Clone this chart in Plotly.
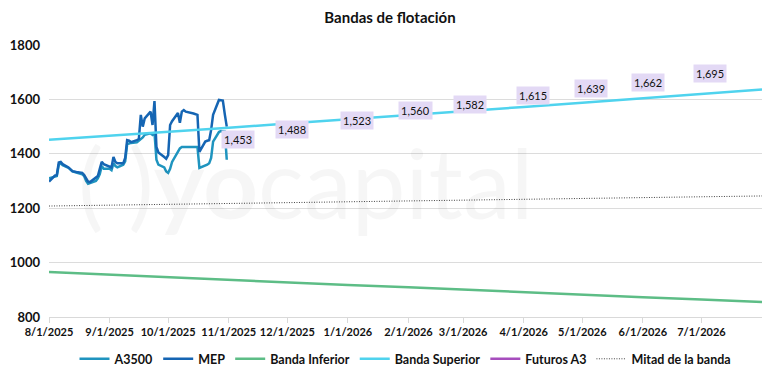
import plotly.graph_objects as go

# ---- data ----
fx_dates = ["2025-08-01","2025-08-04","2025-08-05","2025-08-06","2025-08-07","2025-08-08","2025-08-11","2025-08-13",
            "2025-08-15","2025-08-18","2025-08-19","2025-08-20","2025-08-21","2025-08-22","2025-08-25","2025-08-26",
            "2025-08-27","2025-08-28","2025-08-29","2025-09-01","2025-09-02","2025-09-03","2025-09-04","2025-09-05",
            "2025-09-08","2025-09-09","2025-09-10","2025-09-11","2025-09-12","2025-09-15","2025-09-16","2025-09-17",
            "2025-09-18","2025-09-19","2025-09-22","2025-09-23","2025-09-24","2025-09-25","2025-09-26","2025-09-29",
            "2025-09-30","2025-10-01","2025-10-02","2025-10-03","2025-10-06","2025-10-07","2025-10-08","2025-10-09",
            "2025-10-10","2025-10-14","2025-10-15","2025-10-16","2025-10-17","2025-10-20","2025-10-21","2025-10-22",
            "2025-10-23","2025-10-24","2025-10-27","2025-10-28","2025-10-29","2025-10-30","2025-10-31"]
a3500 = [1310,1315,1318,1360,1365,1358,1348,1335,1330,1325,1318,1300,1290,1292,1300,1310,
         1325,1355,1345,1345,1340,1365,1355,1350,1360,1372,1435,1438,1440,1442,1448,1455,
         1460,1470,1475,1470,1478,1378,1360,1350,1335,1330,1345,1370,1410,1420,1425,1425,
         1425,1425,1426,1425,1348,1355,1360,1365,1385,1445,1480,1484,1484,1482,1378]
mep = [1298,1320,1322,1368,1370,1362,1350,1336,1333,1330,1322,1310,1298,1296,1312,1318,
       1345,1370,1362,1355,1350,1388,1370,1365,1365,1385,1450,1448,1443,1450,1455,1543,
       1500,1530,1555,1506,1594,1425,1405,1388,1382,1395,1506,1520,1550,1514,1555,1561,
       1555,1548,1545,1543,1407,1445,1448,1450,1488,1543,1598,1598,1596,1545,1500]

band_dates = ["2025-08-01","2025-09-01","2025-10-01","2025-11-01","2025-12-01","2026-01-01","2026-02-01",
              "2026-03-01","2026-04-01","2026-05-01","2026-06-01","2026-07-01","2026-08-01"]
banda_inferior = [965,955,946,936,927,918,909,900,891,882,873,864,855]
banda_superior = [1452,1466,1481,1496,1511,1526,1541,1556,1572,1588,1604,1620,1636]
mitad_banda = [1208,1211,1213,1216,1219,1222,1225,1228,1231,1235,1238,1242,1245]

fut_dates = ["2025-10-31","2025-11-28","2025-12-31","2026-01-30","2026-02-27","2026-03-31",
             "2026-04-30","2026-05-29","2026-06-30"]
futuros_a3 = [1453,1488,1523,1560,1582,1615,1639,1662,1695]

tick_dates = ["2025-08-01","2025-09-01","2025-10-01","2025-11-01","2025-12-01","2026-01-01",
              "2026-02-01","2026-03-01","2026-04-01","2026-05-01","2026-06-01","2026-07-01"]
tick_labels = ["8/1/2025","9/1/2025","10/1/2025","11/1/2025","12/1/2025","1/1/2026",
               "2/1/2026","3/1/2026","4/1/2026","5/1/2026","6/1/2026","7/1/2026"]
y_ticks = [800, 1000, 1200, 1400, 1600, 1800]

FONT = "Lato"

fig = go.Figure()
fig.add_trace(go.Scatter(x=fx_dates, y=a3500, name="A3500", mode="lines",
                         line=dict(color="#1f94bf", width=2.5)))
fig.add_trace(go.Scatter(x=fx_dates, y=mep, name="MEP", mode="lines",
                         line=dict(color="#1565b3", width=2.5)))
fig.add_trace(go.Scatter(x=band_dates, y=banda_inferior, name="Banda Inferior", mode="lines",
                         line=dict(color="#5dbd86", width=2.5)))
fig.add_trace(go.Scatter(x=band_dates, y=banda_superior, name="Banda Superior", mode="lines",
                         line=dict(color="#4fd3ee", width=2.5)))
fig.add_trace(go.Scatter(x=[None], y=[None], name="Futuros A3", mode="lines",
                         line=dict(color="#a64dbd", width=2.5)))
fig.add_trace(go.Scatter(x=band_dates, y=mitad_banda, name="Mitad de la banda", mode="lines",
                         line=dict(color="#444444", width=1, dash="1px,1.5px")))

for d, v in zip(fut_dates, futuros_a3):
    fig.add_annotation(x=d, y=v, xref="x", yref="y", text=f"{v:,}", showarrow=False,
                       xshift=11, bgcolor="#e3d9f5", borderpad=2,
                       font=dict(family=FONT, size=11, color="#111111"))

# watermark
fig.add_annotation(x=0.36, y=0.5, xref="paper", yref="paper",
                   text="( )<b>yo</b>capital", showarrow=False,
                   font=dict(family=FONT, size=96, color="rgba(0,0,0,0.035)"))

fig.update_layout(
    width=780, height=371,
    margin=dict(l=49, r=18, t=45, b=54, autoexpand=False),
    paper_bgcolor="white", plot_bgcolor="white",
    title=dict(text="<b>Bandas de flotación</b>", x=0.5, xanchor="center", y=0.953, yanchor="middle",
               font=dict(family=FONT, size=15, color="#111111")),
    font=dict(family=FONT, color="#111111"),
    showlegend=True,
    legend=dict(orientation="h", x=0.5, xanchor="center", y=-0.155, yanchor="middle",
                font=dict(family=FONT, size=12.5, color="#111111", weight="bold"),
                itemwidth=30, tracegroupgap=0),
)
fig.update_xaxes(type="date", range=["2025-08-01", "2026-08-01"],
                 tickvals=tick_dates, ticktext=tick_labels, tickangle=0, automargin=False,
                 tickfont=dict(family=FONT, size=11, color="#111111", weight="bold"),
                 showgrid=False, showline=True, linecolor="#d9d9d9", linewidth=1,
                 ticks="outside", ticklen=5, tickcolor="#d9d9d9", zeroline=False)
fig.update_yaxes(range=[800, 1800], tickvals=y_ticks, automargin=False,
                 tickfont=dict(family=FONT, size=13, color="#111111", weight="bold"),
                 showgrid=True, gridcolor="#dcdcdc", gridwidth=1, zeroline=False,
                 showline=False, ticks="", ticklabelstandoff=8)

fig.write_html("out.html")
